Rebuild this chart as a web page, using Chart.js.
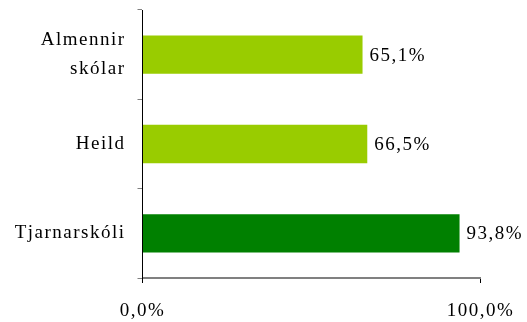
<!DOCTYPE html>
<html>
<head>
<meta charset="utf-8">
<script src="https://cdn.jsdelivr.net/npm/chart.js@4"></script>
<style>
  body { margin: 0; background: #fff; }
</style>
</head>
<body>
<canvas id="chart" width="527" height="322"></canvas>
<script>
const categories = [['Almennir', 'skólar'], 'Heild', 'Tjarnarskóli'];
const values = [65.1, 66.5, 93.8];
const barColors = ['#99CC00', '#99CC00', '#008000'];
const xTicks = [0, 100];

const fontFamily = '"Liberation Serif", "Times New Roman", serif';

function pct(v) {
    return v.toFixed(1).replace('.', ',') + '%';
}

// spacing like the original
const spacing = {
    id: 'spacing',
    beforeDraw(chart) {
        chart.ctx.letterSpacing = '1.5px';
    }
};

// value labels at bar ends
const valueLabels = {
    id: 'valueLabels',
    afterDatasetsDraw(chart) {
        const ctx = chart.ctx;
        const meta = chart.getDatasetMeta(0);
        ctx.save();
        ctx.letterSpacing = '1.5px';
        ctx.font = '19px ' + fontFamily;
        ctx.fillStyle = '#000';
        ctx.textAlign = 'left';
        ctx.textBaseline = 'middle';
        meta.data.forEach(function(bar, i) {
            ctx.fillText(pct(values[i]), bar.x + 7, bar.y + 1);
        });
        ctx.restore();
    }
};

const ctx = document.getElementById('chart').getContext('2d');
const chart = new Chart(ctx, {
    type: 'bar',
    data: {
        labels: categories,
        datasets: [{
            data: values,
            backgroundColor: barColors,
            borderWidth: 0,
            barPercentage: 0.43,
            categoryPercentage: 1.0
        }]
    },
    options: {
        indexAxis: 'y',
        responsive: false,
        animation: false,
        layout: { padding: { top: 10, right: 46.5, left: 0, bottom: 0 } },
        plugins: {
            legend: { display: false },
            tooltip: { enabled: false }
        },
        scales: {
            x: {
                min: 0,
                max: 100,
                afterBuildTicks(scale) {
                    scale.ticks = xTicks.map(v => ({ value: v }));
                },
                afterFit(scale) {
                    scale.height = 44;
                    scale.paddingLeft = 0;
                    scale.paddingRight = 0;
                },
                ticks: {
                    callback: v => pct(v),
                    color: '#000',
                    font: { family: fontFamily, size: 19 },
                    padding: 17,
                    maxRotation: 0
                },
                grid: {
                    drawOnChartArea: false,
                    drawTicks: true,
                    tickLength: 5,
                    color: '#000'
                },
                border: { color: '#808080', width: 2 }
            },
            y: {
                afterFit(scale) {
                    scale.width = 142.5;
                    scale.paddingTop = 0;
                    scale.paddingBottom = 0;
                },
                ticks: {
                    color: '#000',
                    font: { family: fontFamily, size: 19, lineHeight: 1.5 },
                    padding: 12
                },
                grid: {
                    offset: true,
                    drawOnChartArea: false,
                    tickLength: 5,
                    color: '#808080'
                },
                border: { color: '#000', width: 1 }
            }
        }
    },
    plugins: [spacing, valueLabels]
});
</script>
</body>
</html>
